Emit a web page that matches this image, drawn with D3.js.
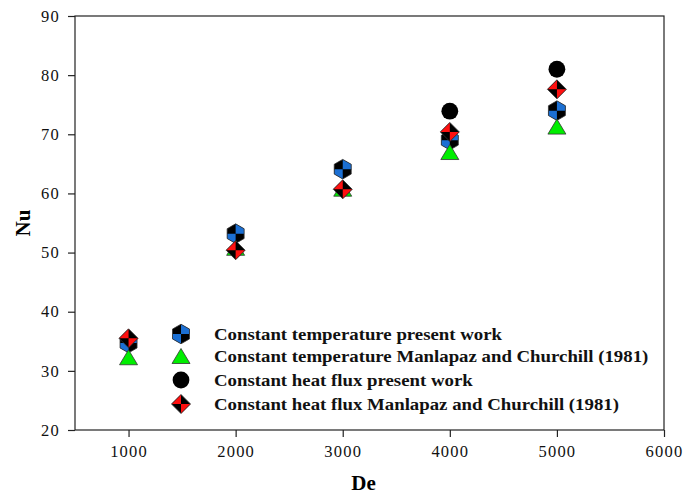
<!DOCTYPE html>
<html>
<head>
<meta charset="utf-8">
<script src="https://cdn.jsdelivr.net/npm/d3@7"></script>
<style>
  body { margin: 0; background: #fff; }
  text { font-family: "Liberation Serif", "Times New Roman", serif; }
</style>
</head>
<body>
<svg id="chart" width="684" height="495"></svg>
<script>
// Data
const deValues = [1000, 2000, 3000, 4000, 5000];
const ctPresent = [34.7, 53.2, 64.1, 69.0, 74.0];   // constant temperature, present work
const ctManlapaz = [32.3, 50.8, 60.8, 67.0, 71.3];  // constant temperature, Manlapaz & Churchill
const hfPresent = [34.7, 53.2, 64.1, 73.9, 81.0];   // constant heat flux, present work (first three sit under the hexagons)
const hfManlapaz = [35.5, 50.4, 60.7, 70.4, 77.6];  // constant heat flux, Manlapaz & Churchill
const xTicks = [1000, 2000, 3000, 4000, 5000, 6000];
const yTicks = [20, 30, 40, 50, 60, 70, 80, 90];
const legendLabels = [
    'Constant temperature present work',
    'Constant temperature Manlapaz and Churchill (1981)',
    'Constant heat flux present work',
    'Constant heat flux Manlapaz and Churchill (1981)'
];

const svg = d3.select('#chart');
const margin = {left: 75, top: 16, right: 20, bottom: 65};
const width = 684 - margin.left - margin.right,
    height = 495 - margin.top - margin.bottom;

const x = d3.scaleLinear().domain([500, 6000]).range([margin.left, margin.left + width]);
const y = d3.scaleLinear().domain([20, 90]).range([margin.top + height, margin.top]);

// Axes
const xAxis = svg.append('g')
    .attr('transform', `translate(0,${margin.top + height})`)
    .call(d3.axisBottom(x).tickValues(xTicks).tickSize(7).tickPadding(8).tickFormat(d3.format('d')));
const yAxis = svg.append('g')
    .attr('transform', `translate(${margin.left},0)`)
    .call(d3.axisLeft(y).tickValues(yTicks).tickSize(7).tickPadding(8));

[xAxis, yAxis].forEach(function(ax){
    ax.select('.domain').remove();
    ax.selectAll('line').attr('stroke', '#222').attr('stroke-width', 1.2);
    ax.selectAll('text')
        .attr('fill', '#111')
        .style('font-size', '16.5px')
        .style('letter-spacing', '1.2px');
});

// Frame
svg.append('rect')
    .attr('x', margin.left).attr('y', margin.top)
    .attr('width', width).attr('height', height)
    .attr('fill', 'none').attr('stroke', '#222').attr('stroke-width', 1.2);

// Axis titles
svg.append('text')
    .attr('x', margin.left + width / 2 - 6).attr('y', 490)
    .attr('text-anchor', 'middle')
    .style('font-size', '21px').style('font-weight', 'bold')
    .text('De');
svg.append('text')
    .attr('transform', `translate(30,${margin.top + height / 2}) rotate(-90)`)
    .attr('text-anchor', 'middle')
    .style('font-size', '21px').style('font-weight', 'bold')
    .text('Nu');

// Marker drawing functions
const R = 9.8, D = 9.5, c30 = Math.cos(Math.PI / 6);
const blue = '#1b6fd3', red = '#ff1010', green = '#00ee00';

function poly(g, pts, fill, stroke){
    g.append('path')
        .attr('d', 'M' + pts.map(p => p.join(',')).join('L') + 'Z')
        .attr('fill', fill)
        .attr('stroke', stroke || 'none')
        .attr('stroke-width', 0.8)
        .attr('stroke-linejoin', 'round');
}

function hexagon(g){
    const pts = [[0,-R],[R*c30,-R/2],[R*c30,R/2],[0,R],[-R*c30,R/2],[-R*c30,-R/2]];
    poly(g, pts, '#000');
    poly(g, [[0,0],[0,-R],[R*c30,-R/2],[R*c30,0]], blue);
    poly(g, [[0,0],[0,R],[-R*c30,R/2],[-R*c30,0]], blue);
    poly(g, pts, 'none', '#333');
}

function triangle(g){
    poly(g, [[0,-7.5],[9,7.5],[-9,7.5]], green, '#333');
}

function circle(g){
    g.append('circle').attr('r', 8.4).attr('fill', '#000');
}

function diamond(g){
    const pts = [[0,-D],[D,0],[0,D],[-D,0]];
    poly(g, pts, '#000');
    poly(g, [[0,0],[-D,0],[0,-D]], red);
    poly(g, [[0,0],[D,0],[0,D]], red);
    poly(g, pts, 'none', '#333');
}

// Draw series; circles first so the others sit on top
const seriesOrder = [
    {vals: hfPresent, draw: circle},
    {vals: ctPresent, draw: hexagon},
    {vals: ctManlapaz, draw: triangle},
    {vals: hfManlapaz, draw: diamond}
];
seriesOrder.forEach(function(s){
    svg.append('g').selectAll('g')
        .data(deValues.map((d, i) => ({de: d, nu: s.vals[i]})))
        .join('g')
        .attr('transform', d => `translate(${x(d.de)},${y(d.nu)})`)
        .each(function(){ s.draw(d3.select(this)); });
});

// Legend
const legendDraw = [hexagon, triangle, circle, diamond];
const legendY = [334, 356, 380, 404];
legendLabels.forEach(function(label, i){
    const g = svg.append('g').attr('transform', `translate(181,${legendY[i]})`);
    legendDraw[i](g);
    svg.append('text')
        .attr('transform', `translate(214,${legendY[i] + 6}) scale(1.075,1)`)
        .style('font-size', '17.5px').style('font-weight', 'bold')
        .attr('fill', '#111')
        .text(label);
});
</script>
</body>
</html>
